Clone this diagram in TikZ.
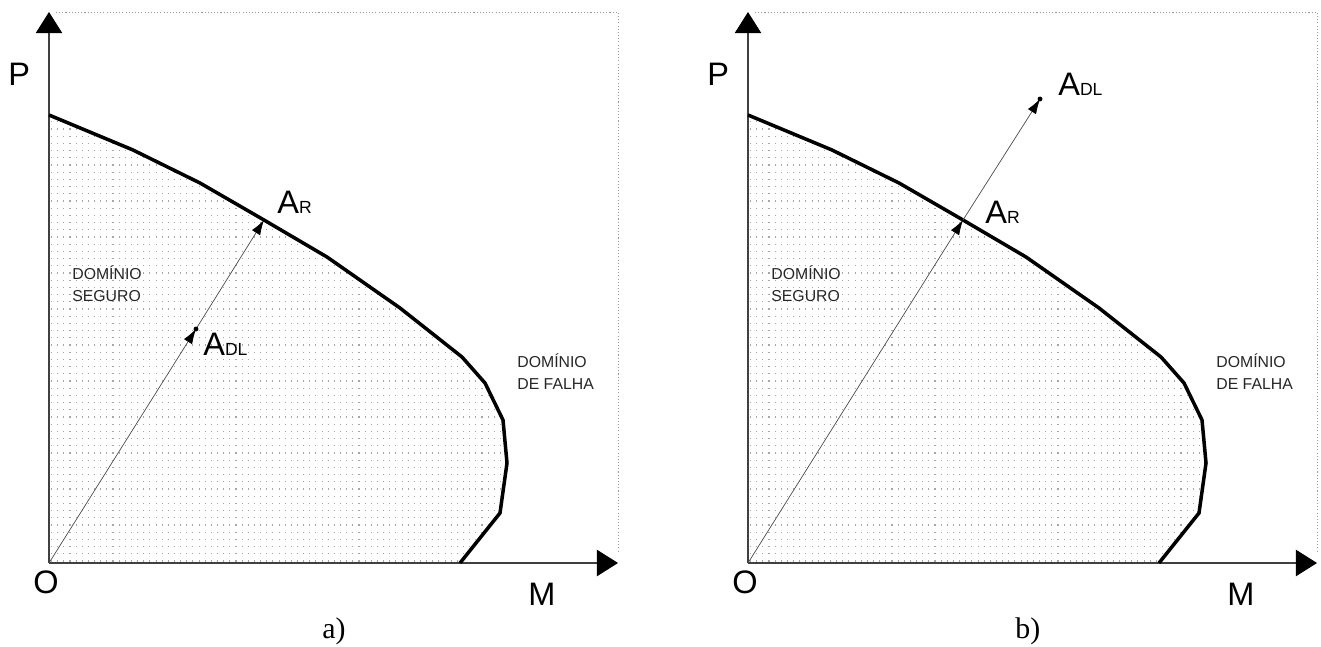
\documentclass[tikz,border=0pt]{standalone}
\usepackage{fontspec}
\setmainfont{Liberation Sans}
\newfontfamily\capfont{Liberation Serif}
\usetikzlibrary{arrows.meta}

\tikzset{
  axis/.style={draw=black!75, line width=0.6pt, -{Triangle[length=12pt,width=15pt,color=black]}},
  frame/.style={draw=black!40, line width=0.5pt, dash pattern=on 0.6pt off 1.2pt},
  limit/.style={draw=black, line width=2pt, line join=round},
  grain/.style={draw=black!35, line width=0.7pt, dash pattern=on 0.6pt off 2.9pt},
  vec/.style={draw=black!70, line width=0.4pt, -{Latex[length=8.5pt,width=5.5pt,color=black]}},
  big/.style={font=\fontsize{18.5}{20}\selectfont, inner sep=0pt, anchor=base west},
  zone/.style={font=\fontsize{9}{12.5}\selectfont, align=left, text=black!85, inner sep=0pt, anchor=north west},
  tag/.style={font=\capfont\fontsize{17}{19}\selectfont, inner sep=0pt, anchor=base west},
}
\newcommand{\ptname}[2]{A{\fontsize{10}{12}\selectfont #2}}
\newcommand{\failcurve}{(49,115) -- (133,150) -- (200,183) -- (264,220) -- (327,257)
  -- (400,308) -- (462,357) -- (485,383) -- (503,420) -- (507,463) -- (500,513) -- (460,563)}

\begin{document}
\begin{tikzpicture}[x=0.02cm, y=-0.02cm]
\useasboundingbox (0,0) rectangle (1321,646);

% both panels
\foreach \dx/\p/\lx in {0/a/322, 699/b/316}{
  \begin{scope}[shift={(\dx,0)}]
    \coordinate (orig-\p) at (49,563);
    \coordinate (ptop-\p) at (49,12);
    \coordinate (mend-\p) at (618,563);
    \coordinate (AR-\p) at (264,220);
    % safe domain dots
    \begin{scope}
      \clip \failcurve -- (49,563) -- cycle;
      \foreach \r in {0,...,62}
        \draw[grain] (51,{561-7.2*\r}) -- (512,{561-7.2*\r});
    \end{scope}
    \draw[frame] (56,12) -- (618,12) -- (618,552);
    \draw[axis] (orig-\p) -- (ptop-\p);
    \draw[axis] (orig-\p) -- (mend-\p);
    \draw[limit] \failcurve;
    \node[big] (P-\p) at (8,85) {P};
    \node[big] (O-\p) at (33,593) {O};
    \node[big] (M-\p) at (528,605) {M};
    \node[zone] (safe-\p) at (72,265) {DOMÍNIO\\SEGURO};
    \node[zone] (fail-\p) at (517,353) {DOMÍNIO\\DE FALHA};
    \node[tag] (cap-\p) at (\lx,638) {\p)};
  \end{scope}
}

% panel a: A_DL inside the safe domain
\coordinate (ADL-a) at (196,329);
\draw[vec] (orig-a) -- (ADL-a);
\draw[vec] (ADL-a) -- (AR-a);
\fill (ADL-a) circle[radius=1.4pt];
\node[big] (lAR-a) at (277,213) {\ptname{A}{R}};
\node[big] (lADL-a) at (203,355) {\ptname{A}{DL}};

% panel b: A_DL beyond the limit
\coordinate (ADL-b) at (1040,99);
\draw[vec] (orig-b) -- (AR-b);
\draw[vec] (AR-b) -- (ADL-b);
\fill (ADL-b) circle[radius=1.4pt];
\node[big] (lAR-b) at (985,223) {\ptname{A}{R}};
\node[big] (lADL-b) at (1058,95) {\ptname{A}{DL}};
\end{tikzpicture}
\end{document}
